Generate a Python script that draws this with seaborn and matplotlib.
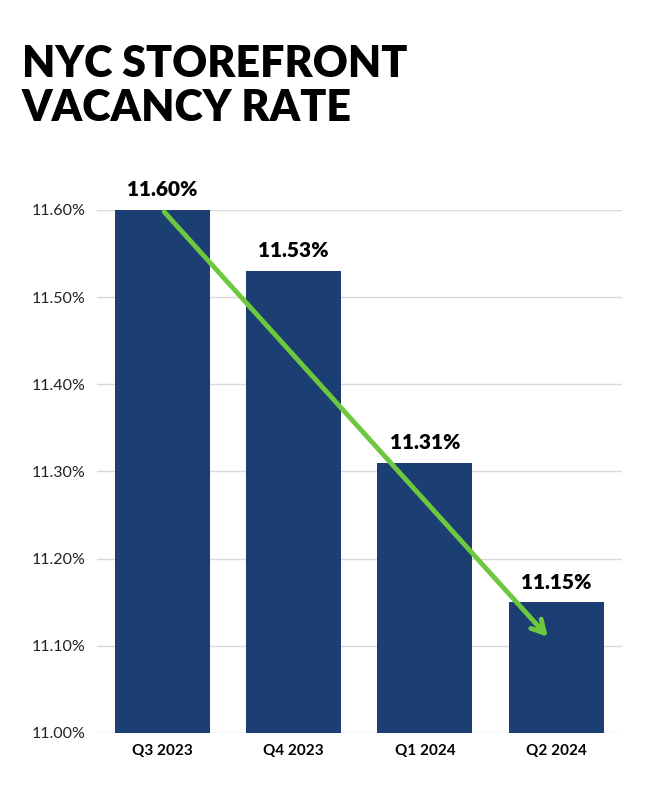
import matplotlib
matplotlib.use("Agg")
import matplotlib.pyplot as plt
import seaborn as sns
import pandas as pd

quarters = ["Q3 2023", "Q4 2023", "Q1 2024", "Q2 2024"]
vacancy = [11.60, 11.53, 11.31, 11.15]
yticks = [11.00, 11.10, 11.20, 11.30, 11.40, 11.50, 11.60]

df = pd.DataFrame({"quarter": quarters, "rate": vacancy})

plt.rcParams["font.family"] = "Lato"
fig = plt.figure(figsize=(6.45, 8.06), dpi=100)
ax = fig.add_axes([0.150, 0.0906, 0.814, 0.649])

sns.barplot(data=df, x="quarter", y="rate", color="#1c3f73", saturation=1,
            width=0.725, ax=ax, zorder=2)

ax.set_ylim(11.0, 11.6)
ax.set_xlim(-0.5, 3.5)
ax.set_yticks(yticks)
ax.set_yticklabels([f"{v:.2f}%" for v in yticks], fontsize=11.5, color="#222222")
ax.set_xticklabels(quarters, fontsize=11, fontweight="bold")
ax.tick_params(length=0, pad=8)
ax.grid(axis="y", color="#d9d9d9", linewidth=1, zorder=0)
for s in ax.spines.values():
    s.set_visible(False)
ax.set_xlabel("")
ax.set_ylabel("")

for i, v in enumerate(vacancy):
    ax.text(i, v + 0.012, f"{v:.2f}%", ha="center", va="bottom",
            fontsize=15, fontweight="black", clip_on=False)

ax.annotate("", xy=(2.95, 11.108), xytext=(0, 11.6),
            arrowprops=dict(arrowstyle="->,head_length=0.9,head_width=0.5",
                            color="#6cc83c", lw=3.5), zorder=5)

fig.text(0.034, 0.945, "NYC STOREFRONT\nVACANCY RATE", ha="left", va="top",
         fontsize=31, fontweight="black", linespacing=1.1)

fig.savefig("out.png", dpi=100, facecolor="white")
